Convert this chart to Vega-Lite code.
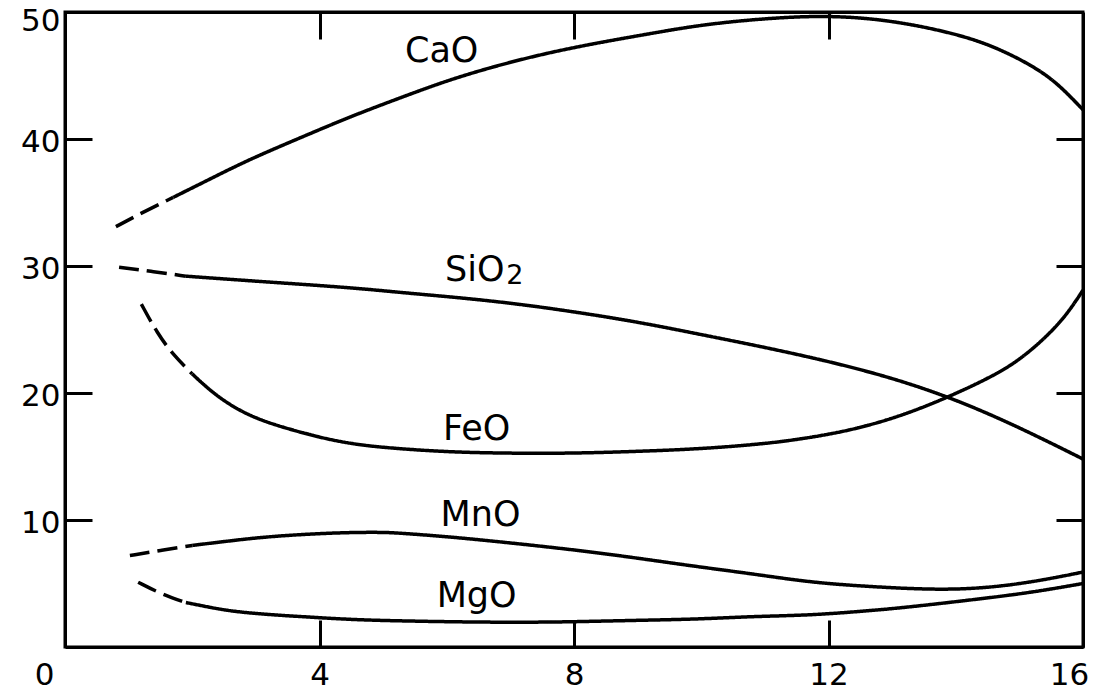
{
  "$schema": "https://vega.github.io/schema/vega-lite/v6.json",
  "autosize": {"type": "none"},
  "padding": {"left": 65, "top": 12, "right": 13, "bottom": 44},
  "width": 1018,
  "height": 635,
  "background": "white",
  "config": {
    "view": {"stroke": "black", "strokeWidth": 3},
    "axis": {
      "grid": false,
      "domainColor": "black",
      "domainWidth": 3,
      "tickColor": "black",
      "tickWidth": 3,
      "tickSize": -27,
      "labelFont": "DejaVu Sans",
      "labelFontSize": 31,
      "labelColor": "black",
      "title": null
    }
  },
  "datasets": {
    "curves": [
      {"s": "CaO", "seg": "dash", "x": 0.8, "y": 33.1},
      {"s": "CaO", "seg": "dash", "x": 1.25, "y": 34.3},
      {"s": "CaO", "seg": "dash", "x": 1.7, "y": 35.4},
      {"s": "CaO", "seg": "solid", "x": 1.7, "y": 35.4},
      {"s": "CaO", "seg": "solid", "x": 2.3, "y": 36.9},
      {"s": "CaO", "seg": "solid", "x": 2.9, "y": 38.4},
      {"s": "CaO", "seg": "solid", "x": 3.7, "y": 40.1},
      {"s": "CaO", "seg": "solid", "x": 4.5, "y": 41.8},
      {"s": "CaO", "seg": "solid", "x": 5.3, "y": 43.3},
      {"s": "CaO", "seg": "solid", "x": 6.0, "y": 44.6},
      {"s": "CaO", "seg": "solid", "x": 6.8, "y": 45.8},
      {"s": "CaO", "seg": "solid", "x": 7.6, "y": 46.8},
      {"s": "CaO", "seg": "solid", "x": 8.4, "y": 47.6},
      {"s": "CaO", "seg": "solid", "x": 9.2, "y": 48.3},
      {"s": "CaO", "seg": "solid", "x": 10.0, "y": 49.0},
      {"s": "CaO", "seg": "solid", "x": 11.0, "y": 49.5},
      {"s": "CaO", "seg": "solid", "x": 12.0, "y": 49.75},
      {"s": "CaO", "seg": "solid", "x": 13.0, "y": 49.35},
      {"s": "CaO", "seg": "solid", "x": 14.0, "y": 48.3},
      {"s": "CaO", "seg": "solid", "x": 14.6, "y": 47.3},
      {"s": "CaO", "seg": "solid", "x": 15.2, "y": 45.8},
      {"s": "CaO", "seg": "solid", "x": 15.6, "y": 44.4},
      {"s": "CaO", "seg": "solid", "x": 16.0, "y": 42.3},

      {"s": "SiO2", "seg": "dash", "x": 0.85, "y": 29.9},
      {"s": "SiO2", "seg": "dash", "x": 1.4, "y": 29.55},
      {"s": "SiO2", "seg": "dash", "x": 1.9, "y": 29.2},
      {"s": "SiO2", "seg": "solid", "x": 1.9, "y": 29.2},
      {"s": "SiO2", "seg": "solid", "x": 3.0, "y": 28.8},
      {"s": "SiO2", "seg": "solid", "x": 4.5, "y": 28.3},
      {"s": "SiO2", "seg": "solid", "x": 5.3, "y": 27.9},
      {"s": "SiO2", "seg": "solid", "x": 6.0, "y": 27.6},
      {"s": "SiO2", "seg": "solid", "x": 7.0, "y": 27.1},
      {"s": "SiO2", "seg": "solid", "x": 8.0, "y": 26.4},
      {"s": "SiO2", "seg": "solid", "x": 9.0, "y": 25.6},
      {"s": "SiO2", "seg": "solid", "x": 10.0, "y": 24.6},
      {"s": "SiO2", "seg": "solid", "x": 11.0, "y": 23.6},
      {"s": "SiO2", "seg": "solid", "x": 12.0, "y": 22.5},
      {"s": "SiO2", "seg": "solid", "x": 13.0, "y": 21.2},
      {"s": "SiO2", "seg": "solid", "x": 14.0, "y": 19.5},
      {"s": "SiO2", "seg": "solid", "x": 15.0, "y": 17.3},
      {"s": "SiO2", "seg": "solid", "x": 16.0, "y": 14.8},

      {"s": "FeO", "seg": "dash", "x": 1.2, "y": 27.0},
      {"s": "FeO", "seg": "dash", "x": 1.45, "y": 24.7},
      {"s": "FeO", "seg": "dash", "x": 1.7, "y": 23.0},
      {"s": "FeO", "seg": "dash", "x": 2.0, "y": 21.5},
      {"s": "FeO", "seg": "solid", "x": 2.0, "y": 21.5},
      {"s": "FeO", "seg": "solid", "x": 2.3, "y": 20.1},
      {"s": "FeO", "seg": "solid", "x": 2.64, "y": 18.9},
      {"s": "FeO", "seg": "solid", "x": 3.0, "y": 18.0},
      {"s": "FeO", "seg": "solid", "x": 3.42, "y": 17.3},
      {"s": "FeO", "seg": "solid", "x": 4.0, "y": 16.5},
      {"s": "FeO", "seg": "solid", "x": 4.5, "y": 16.0},
      {"s": "FeO", "seg": "solid", "x": 5.0, "y": 15.7},
      {"s": "FeO", "seg": "solid", "x": 6.0, "y": 15.35},
      {"s": "FeO", "seg": "solid", "x": 7.0, "y": 15.25},
      {"s": "FeO", "seg": "solid", "x": 8.0, "y": 15.25},
      {"s": "FeO", "seg": "solid", "x": 9.0, "y": 15.4},
      {"s": "FeO", "seg": "solid", "x": 10.0, "y": 15.6},
      {"s": "FeO", "seg": "solid", "x": 11.0, "y": 16.0},
      {"s": "FeO", "seg": "solid", "x": 11.6, "y": 16.4},
      {"s": "FeO", "seg": "solid", "x": 12.3, "y": 17.0},
      {"s": "FeO", "seg": "solid", "x": 13.1, "y": 18.1},
      {"s": "FeO", "seg": "solid", "x": 13.9, "y": 19.7},
      {"s": "FeO", "seg": "solid", "x": 14.7, "y": 21.6},
      {"s": "FeO", "seg": "solid", "x": 15.1, "y": 23.0},
      {"s": "FeO", "seg": "solid", "x": 15.46, "y": 24.6},
      {"s": "FeO", "seg": "solid", "x": 15.75, "y": 26.2},
      {"s": "FeO", "seg": "solid", "x": 16.0, "y": 28.1},

      {"s": "MnO", "seg": "dash", "x": 1.02, "y": 7.2},
      {"s": "MnO", "seg": "dash", "x": 1.5, "y": 7.6},
      {"s": "MnO", "seg": "dash", "x": 2.0, "y": 8.0},
      {"s": "MnO", "seg": "solid", "x": 2.0, "y": 8.0},
      {"s": "MnO", "seg": "solid", "x": 2.5, "y": 8.3},
      {"s": "MnO", "seg": "solid", "x": 3.17, "y": 8.7},
      {"s": "MnO", "seg": "solid", "x": 4.2, "y": 9.0},
      {"s": "MnO", "seg": "solid", "x": 5.0, "y": 9.05},
      {"s": "MnO", "seg": "solid", "x": 5.3, "y": 8.95},
      {"s": "MnO", "seg": "solid", "x": 6.0, "y": 8.7},
      {"s": "MnO", "seg": "solid", "x": 7.0, "y": 8.2},
      {"s": "MnO", "seg": "solid", "x": 8.1, "y": 7.6},
      {"s": "MnO", "seg": "solid", "x": 9.0, "y": 7.0},
      {"s": "MnO", "seg": "solid", "x": 9.97, "y": 6.3},
      {"s": "MnO", "seg": "solid", "x": 10.75, "y": 5.8},
      {"s": "MnO", "seg": "solid", "x": 11.7, "y": 5.1},
      {"s": "MnO", "seg": "solid", "x": 12.5, "y": 4.8},
      {"s": "MnO", "seg": "solid", "x": 13.6, "y": 4.5},
      {"s": "MnO", "seg": "solid", "x": 14.4, "y": 4.6},
      {"s": "MnO", "seg": "solid", "x": 15.2, "y": 5.1},
      {"s": "MnO", "seg": "solid", "x": 16.0, "y": 5.9},

      {"s": "MgO", "seg": "dash", "x": 1.15, "y": 5.1},
      {"s": "MgO", "seg": "dash", "x": 1.5, "y": 4.2},
      {"s": "MgO", "seg": "dash", "x": 1.9, "y": 3.5},
      {"s": "MgO", "seg": "solid", "x": 1.9, "y": 3.5},
      {"s": "MgO", "seg": "solid", "x": 2.3, "y": 3.1},
      {"s": "MgO", "seg": "solid", "x": 2.64, "y": 2.8},
      {"s": "MgO", "seg": "solid", "x": 3.2, "y": 2.55},
      {"s": "MgO", "seg": "solid", "x": 3.7, "y": 2.4},
      {"s": "MgO", "seg": "solid", "x": 4.5, "y": 2.15},
      {"s": "MgO", "seg": "solid", "x": 5.3, "y": 2.05},
      {"s": "MgO", "seg": "solid", "x": 6.5, "y": 1.95},
      {"s": "MgO", "seg": "solid", "x": 7.5, "y": 1.95},
      {"s": "MgO", "seg": "solid", "x": 8.1, "y": 2.0},
      {"s": "MgO", "seg": "solid", "x": 9.0, "y": 2.1},
      {"s": "MgO", "seg": "solid", "x": 10.0, "y": 2.2},
      {"s": "MgO", "seg": "solid", "x": 10.75, "y": 2.4},
      {"s": "MgO", "seg": "solid", "x": 11.7, "y": 2.5},
      {"s": "MgO", "seg": "solid", "x": 12.5, "y": 2.8},
      {"s": "MgO", "seg": "solid", "x": 13.2, "y": 3.1},
      {"s": "MgO", "seg": "solid", "x": 14.4, "y": 3.8},
      {"s": "MgO", "seg": "solid", "x": 15.2, "y": 4.3},
      {"s": "MgO", "seg": "solid", "x": 16.0, "y": 5.0}
    ],
    "labels": [
      {"t": "CaO", "x": 5.92, "y": 46.9},
      {"t": "SiO", "x": 6.44, "y": 29.7},
      {"t": "FeO", "x": 6.47, "y": 17.2},
      {"t": "MnO", "x": 6.53, "y": 10.4},
      {"t": "MgO", "x": 6.47, "y": 4.0}
    ],
    "subs": [
      {"t": "2", "x": 7.07, "y": 29.2}
    ]
  },
  "layer": [
    {
      "data": {"name": "curves"},
      "mark": {"type": "line", "interpolate": "basis", "strokeWidth": 3.5, "color": "black", "strokeCap": "butt"},
      "encoding": {
        "x": {
          "field": "x", "type": "quantitative",
          "scale": {"domain": [0, 16], "nice": false, "zero": false},
          "axis": {
            "orient": "bottom", "values": [0, 4, 8, 12, 16], "labelPadding": 40, "labelFlush": false,
            "labelOffset": {"condition": [{"test": "datum.value == 0", "value": -21}, {"test": "datum.value == 16", "value": -14}], "value": 0}
          }
        },
        "y": {
          "field": "y", "type": "quantitative",
          "scale": {"domain": [0, 50], "nice": false},
          "axis": {
            "orient": "left", "values": [10, 20, 30, 40, 50], "labelPadding": 32,
            "labelOffset": {"condition": {"test": "datum.value == 50", "value": 9}, "value": 3}
          }
        },
        "detail": {"field": "s"},
        "strokeDash": {
          "field": "seg", "type": "nominal",
          "scale": {"domain": ["dash", "solid"], "range": [[20, 8], [1, 0]]},
          "legend": null
        }
      }
    },
    {
      "data": {"name": "labels"},
      "mark": {"type": "text", "font": "DejaVu Sans", "fontSize": 35, "color": "black", "align": "center", "baseline": "middle"},
      "encoding": {
        "x": {"field": "x", "type": "quantitative", "axis": {"orient": "top", "values": [4, 8, 12], "labels": false}},
        "y": {"field": "y", "type": "quantitative", "axis": {"orient": "right", "values": [10, 20, 30, 40], "labels": false}},
        "text": {"field": "t"}
      }
    },
    {
      "data": {"name": "subs"},
      "mark": {"type": "text", "font": "DejaVu Sans", "fontSize": 27, "color": "black", "align": "center", "baseline": "middle"},
      "encoding": {
        "x": {"field": "x", "type": "quantitative", "axis": null},
        "y": {"field": "y", "type": "quantitative", "axis": null},
        "text": {"field": "t"}
      }
    }
  ],
  "resolve": {"axis": {"x": "independent", "y": "independent"}}
}
